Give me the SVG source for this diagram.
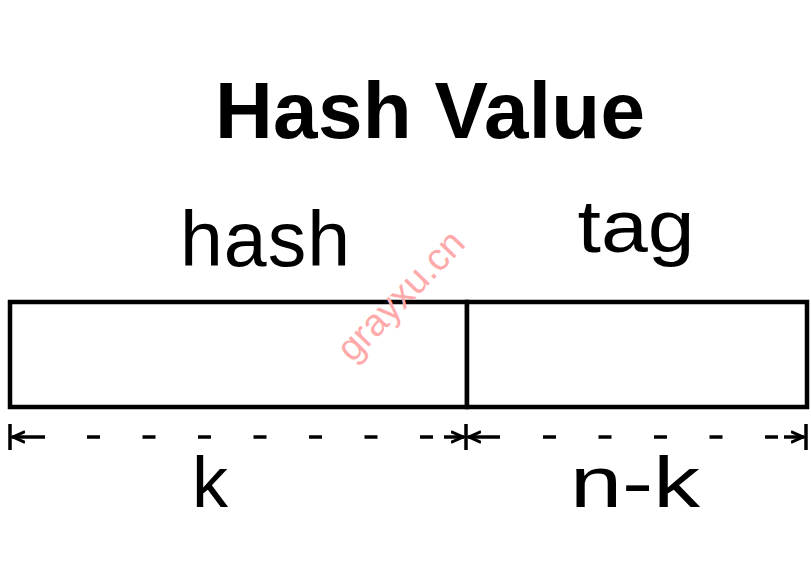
<svg xmlns="http://www.w3.org/2000/svg" width="811" height="588" viewBox="0 0 811 588">
<style>
.lbl{font-family:"Liberation Sans",Arial,sans-serif;fill:#000;text-anchor:middle}
.box{fill:#fff;stroke:#000;stroke-width:4.5}
.dim{stroke:#000;stroke-width:3.5;fill:none}
.dash{stroke:#000;stroke-width:3.5;stroke-dasharray:13 42.5}
.tick{stroke:#000;stroke-width:3.5}
</style>
<defs>
<marker id="arr" viewBox="0 0 14 14" refX="13" refY="7" markerWidth="14" markerHeight="14" markerUnits="userSpaceOnUse" orient="auto-start-reverse">
<path d="M0,1.5 L12,7 L0,12.5" fill="none" stroke="#000" stroke-width="3"/>
</marker>
</defs>
<rect width="811" height="588" fill="#fff"/>
<text class="lbl" x="430" y="138" font-size="80" font-weight="bold" textLength="430" lengthAdjust="spacing">Hash Value</text>
<g id="hash">
<rect class="box" x="10" y="302" width="457" height="105"/>
<text class="lbl" x="265" y="266" font-size="77" textLength="170" lengthAdjust="spacing">hash</text>
</g>
<g id="tag">
<rect class="box" x="467" y="302" width="340" height="105"/>
<text class="lbl" x="636" y="252" font-size="74" textLength="117" lengthAdjust="spacingAndGlyphs">tag</text>
</g>
<g id="connectors">
<line class="tick" x1="10" y1="424" x2="10" y2="450"/>
<line class="tick" x1="466" y1="424" x2="466" y2="450"/>
<line class="tick" x1="806" y1="424" x2="806" y2="450"/>
<line class="dim" x1="12" y1="437" x2="45" y2="437" marker-start="url(#arr)"/>
<line class="dash" x1="87" y1="437" x2="440" y2="437"/>
<line class="dim" x1="444" y1="437" x2="464" y2="437" marker-end="url(#arr)"/>
<line class="dim" x1="468" y1="437" x2="500" y2="437" marker-start="url(#arr)"/>
<line class="dash" x1="543" y1="437" x2="780" y2="437"/>
<line class="dim" x1="784" y1="437" x2="804" y2="437" marker-end="url(#arr)"/>
</g>
<g id="k"><text class="lbl" x="210" y="507" font-size="72">k</text></g>
<g id="nk"><text class="lbl" x="635" y="507" font-size="72" textLength="130" lengthAdjust="spacingAndGlyphs">n-k</text></g>
<text x="401" y="308" font-family="Liberation Sans,Arial,sans-serif" font-size="38" fill="#ffaaaa" text-anchor="middle" transform="rotate(-46 401 296)">grayxu.cn</text>
</svg>
